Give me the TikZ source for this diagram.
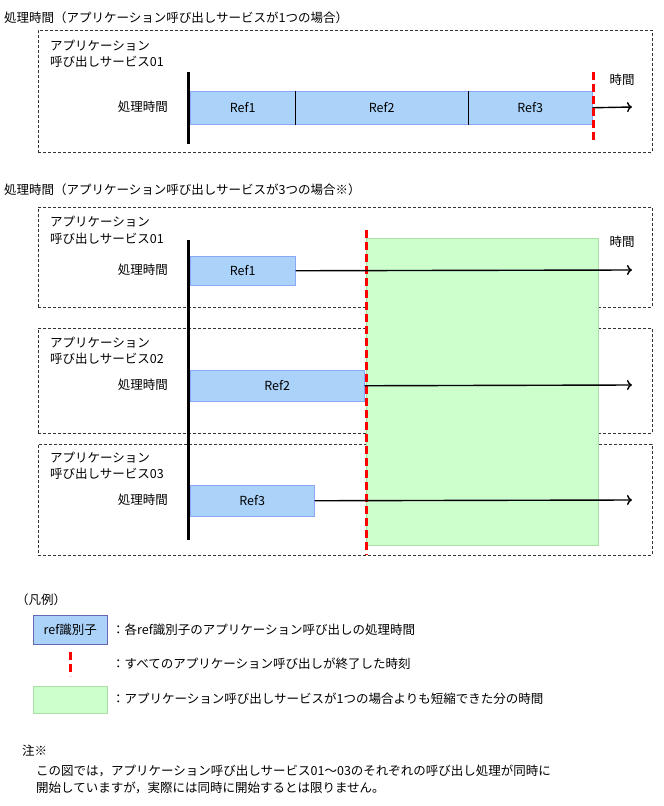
\documentclass[tikz,border=0pt]{standalone}
\usetikzlibrary{arrows.meta}
\usepackage{fontspec}
\setmainfont{Noto Sans CJK JP}
\definecolor{bfill}{HTML}{ABD2F8}
\definecolor{gfill}{HTML}{CCFFCC}
\definecolor{gline}{HTML}{A8E0A8}
\begin{document}
\begin{tikzpicture}[x=1pt,y=-1pt,
  every node/.style={font=\fontsize{12.5}{14}\selectfont,inner sep=0pt},
  lab/.style={anchor=west},
  grp/.style={draw=black!80,dash pattern=on 3pt off 2pt,line width=0.8pt},
  bar/.style={draw=bfill!80!blue,fill=bfill,line width=0.5pt},
  grn/.style={draw=gline,fill=gfill,line width=0.8pt},
  red/.style={draw=red,line width=3pt,dash pattern=on 8pt off 4pt},
  tl/.style={line width=3pt},
  arr/.style={-{To[length=5pt,width=10pt]},line width=1.4pt}]
\useasboundingbox (0,0) rectangle (664,806);
% Section 1
\node[lab] (t1) at (4,18) {処理時間（アプリケーション呼び出しサービスが1つの場合）};
\node[grp,minimum width=614pt,minimum height=122pt,anchor=north west] (g1) at (38,30) {};
\node[lab] (g1a) at (50,46) {アプリケーション};
\node[lab] (g1b) at (50,62) {呼び出しサービス01};
\node[anchor=east] (p1) at (168,107) {処理時間};
\coordinate (v1t) at (188,72); \coordinate (v1b) at (188,144);
\draw[tl] (v1t) -- (v1b);
\node[bar,minimum width=105pt,minimum height=33pt,anchor=north west] (r1) at (190,91) {Ref1};
\node[bar,minimum width=173pt,minimum height=33pt,anchor=north west] (r2) at (295,91) {Ref2};
\node[bar,minimum width=124pt,minimum height=33pt,anchor=north west] (r3) at (468,91) {Ref3};
\draw[line width=0.8pt] (r2.north west) -- (r2.south west) (r3.north west) -- (r3.south west);
\coordinate (e1) at (632,107);
\draw[arr] (r3.east) -- (e1);
\coordinate (d1t) at (593,72); \coordinate (d1b) at (593,140);
\draw[red] (d1t) -- (d1b);
\node (tm1) at (622,80) {時間};
% Section 2
\node[lab] (t2) at (4,190) {処理時間（アプリケーション呼び出しサービスが3つの場合※）};
\node[grp,minimum width=614pt,minimum height=100pt,anchor=north west] (gA) at (38,207) {};
\node[grp,minimum width=614pt,minimum height=105pt,anchor=north west] (gB) at (38,328) {};
\node[grp,minimum width=614pt,minimum height=111pt,anchor=north west] (gC) at (38,444) {};
\node[grn,minimum width=232pt,minimum height=307pt,anchor=north west] (gr) at (366,238) {};
\coordinate (v2t) at (188,240); \coordinate (v2b) at (188,540);
\draw[tl] (v2t) -- (v2b);
\coordinate (d2t) at (366,230); \coordinate (d2b) at (366,555);
\draw[red] (d2t) -- (d2b);
\node (tm2) at (622,242) {時間};
\node[lab] (gAa) at (50,222) {アプリケーション};
\node[lab] (gAb) at (50,239) {呼び出しサービス01};
\node[anchor=east] (pA) at (168,270) {処理時間};
\node[bar,minimum width=105pt,minimum height=29pt,anchor=north west] (s1) at (190,256) {Ref1};
\coordinate (eA) at (632,270);
\draw[arr] (s1.east) -- (eA);
\node[lab] (gBa) at (50,343) {アプリケーション};
\node[lab] (gBb) at (50,359) {呼び出しサービス02};
\node[anchor=east] (pB) at (168,385) {処理時間};
\node[bar,minimum width=174pt,minimum height=31pt,anchor=north west] (s2) at (190,370) {Ref2};
\coordinate (eB) at (632,385);
\draw[arr] (s2.east) -- (eB);
\node[lab] (gCa) at (50,458) {アプリケーション};
\node[lab] (gCb) at (50,474) {呼び出しサービス03};
\node[anchor=east] (pC) at (168,500) {処理時間};
\node[bar,minimum width=124pt,minimum height=31pt,anchor=north west] (s3) at (190,485) {Ref3};
\coordinate (eC) at (632,500);
\draw[arr] (s3.east) -- (eC);
% Legend
\node[lab] (lg) at (16,600) {（凡例）};
\node[bar,draw=blue!50!black!60,minimum width=74pt,minimum height=29pt,anchor=north west] (lb) at (33,615) {ref識別子};
\node[lab] (lbt) at (112,630) {：各ref識別子のアプリケーション呼び出しの処理時間};
\coordinate (lrt) at (70,652); \coordinate (lrb) at (70,676);
\draw[red] (lrt) -- (lrb);
\node[lab] (lrx) at (112,664) {：すべてのアプリケーション呼び出しが終了した時刻};
\node[grn,minimum width=74pt,minimum height=27pt,anchor=north west] (lgn) at (33,686) {};
\node[lab] (lgt) at (112,699) {：アプリケーション呼び出しサービスが1つの場合よりも短縮できた分の時間};
\node[lab] (n0) at (22,751) {注※};
\node[lab] (n1) at (36,771) {この図では，アプリケーション呼び出しサービス01～03のそれぞれの呼び出し処理が同時に};
\node[lab] (n2) at (36,788) {開始していますが，実際には同時に開始するとは限りません。};
\end{tikzpicture}
\end{document}
